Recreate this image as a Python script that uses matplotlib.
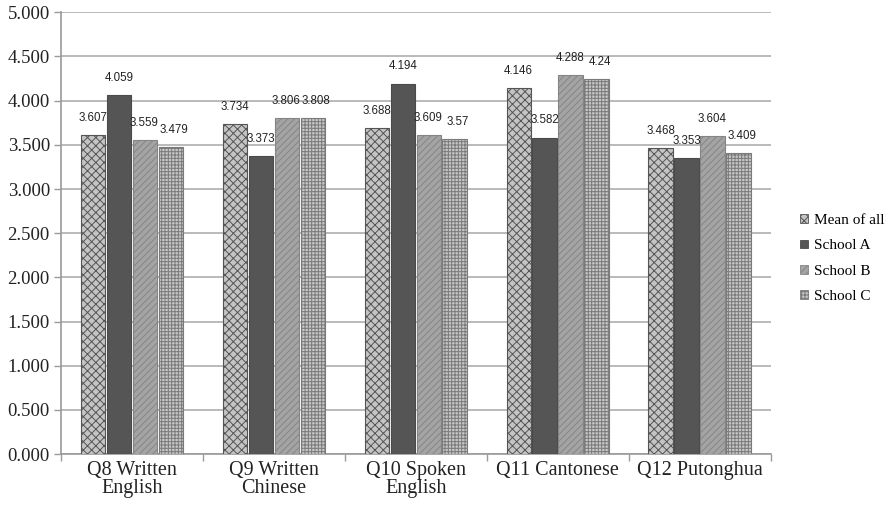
import numpy as np
import matplotlib
matplotlib.use('Agg')
import matplotlib.pyplot as plt
from matplotlib.patches import Patch

# survey question categories and mean scores per group
categories = ['Q8 Written\nEnglish', 'Q9 Written\nChinese', 'Q10 Spoken\nEnglish',
              'Q11 Cantonese', 'Q12 Putonghua']
series_names = ['Mean of all', 'School A', 'School B', 'School C']
mean_all = [3.607, 3.734, 3.688, 4.146, 3.468]
school_a = [4.059, 3.373, 4.194, 3.582, 3.353]
school_b = [3.559, 3.806, 3.609, 4.288, 3.604]
school_c = [3.479, 3.808, 3.57, 4.24, 3.409]
value_labels = [
    ['3.607', '3.734', '3.688', '4.146', '3.468'],
    ['4.059', '3.373', '4.194', '3.582', '3.353'],
    ['3.559', '3.806', '3.609', '4.288', '3.604'],
    ['3.479', '3.808', '3.57', '4.24', '3.409'],
]
yticks = np.arange(0, 5.01, 0.5)

series = [mean_all, school_a, school_b, school_c]
styles = [
    dict(facecolor='#c4c4c4', edgecolor='#555555', hatch='xxxx'),
    dict(facecolor='#555555', edgecolor='#4a4a4a', hatch=''),
    dict(facecolor='#a4a4a4', edgecolor='#858585', hatch='/////'),
    dict(facecolor='#c6c6c6', edgecolor='#7a7a7a', hatch='+++++'),
]
# small horizontal nudge (points) so neighbouring value labels don't collide
label_dx = [0, 0, -0.5, 2.5]

plt.rcParams['hatch.linewidth'] = 0.7
fig = plt.figure(figsize=(8.96, 5.12), dpi=100)
ax = fig.add_axes([0.068, 0.113, 0.792, 0.863])

x = np.arange(len(categories))
width = 0.172
step = 0.183
for i, (vals, st) in enumerate(zip(series, styles)):
    pos = x + (i - 1.5) * step
    ax.bar(pos, vals, width=width, facecolor=st['facecolor'],
           edgecolor=st['edgecolor'], hatch=st['hatch'], linewidth=0.8, zorder=3)
    for p, v, lab in zip(pos, vals, value_labels[i]):
        ax.annotate(lab, (p, v), xytext=(label_dx[i], 8), textcoords='offset points',
                    ha='center', va='bottom', fontsize=8.3, color='#222222',
                    family='Liberation Sans', zorder=4)

ax.set_xlim(-0.5, len(categories) - 0.5)
ax.set_ylim(0, 5)
ax.set_yticks(yticks)
ax.set_yticklabels([f'{t:.3f}' for t in yticks], family='Liberation Serif', fontsize=13.5,
                   color='#222222')
ax.set_xticks(x)
ax.set_xticklabels(categories, family='Liberation Serif', fontsize=14.5, linespacing=0.95,
                   color='#222222')
ax.tick_params(axis='x', length=0, pad=5)
ax.set_xticks(np.arange(-0.5, len(categories), 1.0), minor=True)
ax.tick_params(axis='x', which='minor', length=5, color='#9a9a9a', width=1)
ax.tick_params(axis='y', length=5, color='#9a9a9a', width=1, pad=3)

ax.grid(axis='y', color='#b4b4b4', linewidth=1.3, zorder=0)
for s in ['top', 'right']:
    ax.spines[s].set_visible(False)
for s in ['left', 'bottom']:
    ax.spines[s].set_color('#9a9a9a')
    ax.spines[s].set_linewidth(1.2)

handles = [Patch(facecolor=st['facecolor'], edgecolor=st['edgecolor'], hatch=st['hatch'],
                 linewidth=0.6) for st in styles]
fig.legend(handles, series_names, loc='center left', bbox_to_anchor=(0.893, 0.495),
           frameon=False, prop={'family': 'Liberation Serif', 'size': 11},
           handlelength=0.5, handleheight=0.5, handletextpad=0.4, labelspacing=0.8,
           borderpad=0, borderaxespad=0)

fig.savefig('out.png', dpi=100)
